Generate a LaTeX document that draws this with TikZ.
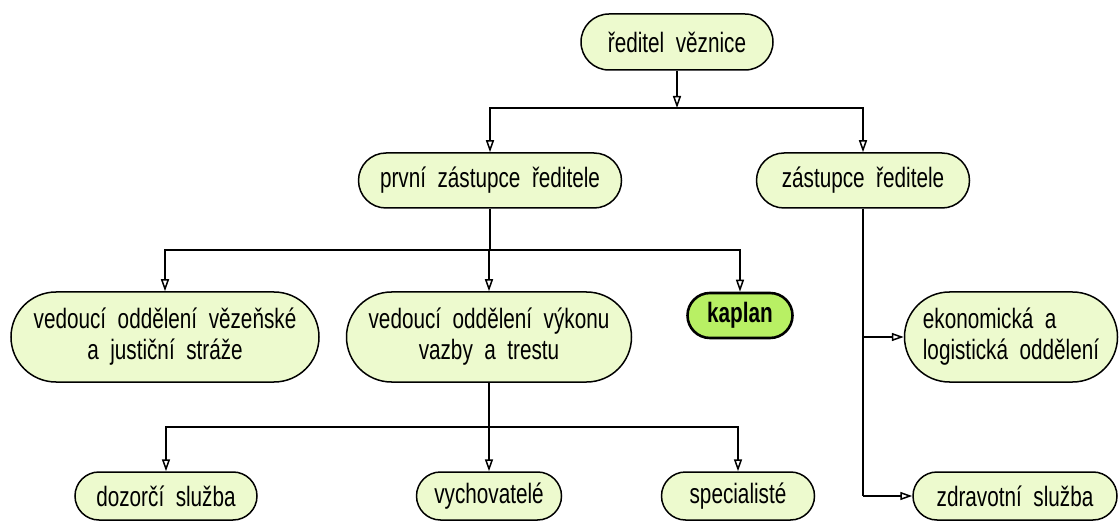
\documentclass[tikz,border=0pt]{standalone}
\usepackage{fontspec}
\setmainfont{Liberation Sans}[FakeStretch=0.74, WordSpace=2]
\usetikzlibrary{shapes.misc,arrows.meta}
\definecolor{boxfill}{RGB}{237,250,206}
\definecolor{kapfill}{RGB}{184,240,100}
\begin{document}
\begin{tikzpicture}[x=1pt,y=-1pt,
  box/.style={rounded rectangle, draw=black, line width=1.5pt, fill=boxfill,
    inner sep=0pt, font=\fontsize{28}{31}\selectfont, align=center},
  arr/.style={line width=1.5pt, -{Triangle[open,width=8pt,length=12pt]}},
  ln/.style={line width=1.5pt}]
\useasboundingbox (0,0) rectangle (1119,521);
% nodes
\node[box, minimum width=192, minimum height=56] (dir) at (677,42) {ředitel věznice};
\node[box, minimum width=263, minimum height=55] (zr1) at (490,180.5) {první zástupce ředitele};
\node[box, minimum width=213, minimum height=55] (zr2) at (863,180.5) {zástupce ředitele};
\node[box, minimum width=308, minimum height=90] (vs) at (165,337) {vedoucí oddělení vězeňské\\a justiční stráže};
\node[box, minimum width=285, minimum height=90] (vk) at (489,337) {vedoucí oddělení výkonu\\vazby a trestu};
\node[box, minimum width=105, minimum height=45, fill=kapfill, line width=2.6pt,
  font=\fontsize{28}{31}\selectfont\bfseries] (kap) at (740,315.5) {kaplan};
\node[box, minimum width=213, minimum height=90, align=left] (eko) at (1011,337) {ekonomická a\\logistická oddělení};
\node[box, minimum width=182, minimum height=48] (dz) at (166,496) {dozorčí služba};
\node[box, minimum width=145, minimum height=48] (vy) at (489,496) {vychovatelé};
\node[box, minimum width=153, minimum height=48] (sp) at (738,496) {specialisté};
\node[box, minimum width=204, minimum height=48] (zd) at (1015,496) {zdravotní služba};
% connectors
\coordinate (j1) at (677,108);
\draw[arr] (dir.south) -- (j1);
\draw[arr] (j1) -| (zr1.north);
\draw[arr] (j1) -| (zr2.north);
\coordinate (j2) at (490,250);
\draw[ln] (zr1.south) -- (j2);
\draw[arr] (j2) -| (vs.north);
\draw[arr] (j2) -| (vk.north);
\draw[arr] (j2) -| (kap.north);
\coordinate (j3) at (489,427);
\draw[ln] (vk.south) -- (j3);
\draw[arr] (j3) -| (dz.north);
\draw[arr] (j3) -- (vy.north);
\draw[arr] (j3) -| (sp.north);
\coordinate (j4) at (zr2.south |- zd.west);
\coordinate (j5) at (zr2.south |- eko.west);
\draw[ln] (zr2.south) -- (j4);
\draw[arr] (j5) -- (eko.west);
\draw[arr] (j4) -- (zd.west);
\end{tikzpicture}
\end{document}
